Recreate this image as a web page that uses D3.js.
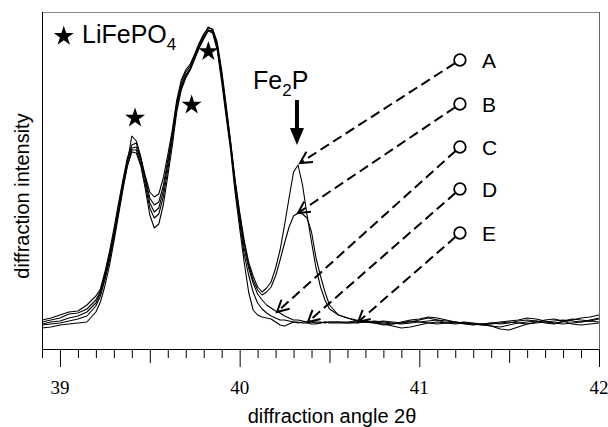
<!DOCTYPE html>
<html><head><meta charset="utf-8">
<script src="https://cdn.jsdelivr.net/npm/d3@7"></script>
<style>body{margin:0;background:#fff}svg{display:block}
.serif{font-family:"Liberation Serif","Times New Roman",serif;}
</style>
</head><body>
<svg id="c" width="608" height="427"></svg>
<script>
// 2-theta sampling positions (degrees)
const angle = [38.90,38.95,39.00,39.05,39.10,39.15,39.20,
39.225,39.25,39.275,39.30,39.325,39.35,39.375,39.40,39.425,39.45,39.475,39.50,39.525,39.55,39.575,39.60,
39.625,39.65,39.675,39.70,39.725,39.75,39.775,39.80,39.825,39.85,39.875,39.90,39.925,39.95,39.975,40.00,
40.025,40.05,40.075,40.10,40.125,40.15,40.175,40.20,40.225,40.25,40.275,40.30,40.325,40.35,40.375,40.40,
40.425,40.45,40.475,40.50,
40.55,40.60,40.65,40.70,40.75,40.80,40.85,40.90,40.95,41.00,41.05,41.10,41.15,41.20,41.25,41.30,41.35,
41.40,41.45,41.50,41.55,41.60,41.65,41.70,41.75,41.80,41.85,41.90,41.95,42.00];

// diffraction intensities (arbitrary units) for samples A-E
const seriesA = [29,31,34,37,38,44,53, 60,77,97,120,145,169,191, 204,206, 191,173,157,152,155,171,194,
219,249,269,279,285,295,306,315,321,320, 307,279,244,207,169, 137,109,87,73,62,57,
61,67,81,99,124,151,177,184,164,134,107,81,62,49,40,
34,31,29,28,27,28,27,26,27,29,31,29,26,25,26,25,24,23,22,24,26,27,28,27,26,27,29,31,32,34];
const seriesB = [27,29,31,35,36,40,49, 58,74,93,116,141,166,188, 201,202, 189,170,151,144,147,163,189,
215,246,266,277,283,294,305,314,322,319, 305,276,241,206,167, 135,106,84,69,59,54,
57,62,73,89,106,122,133,136,135,131,117,91,73,57,44,
34,31,28,27,27,26,25,26,28,27,26,25,26,27,25,24,25,26,25,26,28,29,28,26,25,28,30,29,28,30];
const seriesC = [25,27,28,31,33,37,46, 56,72,91,114,139,164,187, 213,208, 192,169,146,137,141,158,185,
212,244,263,274,281,292,303,312,319,318, 304,274,239,204,164, 131,101,81,66,55,49,
44,41,38,36,33,31,29,29,28,27,27,27,27,26,27,
27,27,28,27,26,25,23,21,22,24,26,27,26,26,27,26,25,23,20,19,22,25,26,27,28,29,28,27,29,31];
const seriesD = [24,25,26,28,30,33,43, 53,69,88,111,136,161,183, 199,199, 185,164,141,131,135,152,179,
209,241,261,273,280,291,302,311,319,317, 302,271,236,202,161, 127,95,74,57,46,40,
36,33,31,29,29,28,27,26,27,27,27,26,26,27,27,
27,26,26,27,28,27,26,25,26,27,28,29,28,27,26,25,25,26,27,28,29,31,30,28,26,25,26,27,28,27];
const seriesE = [21,22,24,25,26,27,37, 47,63,83,107,133,159,183, 197,196, 183,160,134,121,125,144,173,
203,237,259,271,279,290,301,310,318,316, 299,267,232,198,156, 121,87,57,39,34,32,
31,30,27,24,23,25,27,27,26,26,25,25,26,27,26,
26,26,27,27,26,24,25,27,29,30,32,31,29,27,26,25,24,25,26,27,26,25,27,29,30,28,25,24,25,26];

const sampleNames = ["A","B","C","D","E"];
const allSeries = [seriesA, seriesB, seriesC, seriesD, seriesE];
// label circle positions and arrow targets (2theta, intensity)
const labelPos = [[41.226,289],[41.226,245],[41.226,202],[41.226,160],[41.226,116]];
const arrowTarget = [[40.336,186],[40.325,136],[40.208,37],[40.380,27],[40.659,27]];
// LiFePO4 reflection markers
const starPos = [[39.418,231],[39.733,244],[39.826,297.5]];
// Fe2P reflection arrow
const fe2pArrow = {angle:40.319, from:249, to:204};
const xTicks = d3.range(389, 421).map(d => d / 10);
const xTickLabels = ["39","40","41","42"];

const svg = d3.select("#c");
const x = d3.scaleLinear().domain([38.9, 42]).range([42, 599]);
const y = d3.scaleLinear().domain([0, 337]).range([349, 12]);

// frame
svg.append("line").attr("x1",42).attr("x2",599.5).attr("y1",12.5).attr("y2",12.5).attr("stroke","#888").attr("stroke-width",1);
svg.append("line").attr("x1",599.5).attr("x2",599.5).attr("y1",12).attr("y2",349).attr("stroke","#666").attr("stroke-width",1);
svg.append("line").attr("x1",42.5).attr("x2",42.5).attr("y1",12).attr("y2",349).attr("stroke","#000").attr("stroke-width",1);

// x axis (ticks; labels drawn as serif text)
const ax = svg.append("g").attr("transform","translate(0,349)")
  .call(d3.axisBottom(x).tickValues(xTicks).tickSize(9).tickSizeOuter(0).tickFormat(""));
ax.select(".domain").attr("stroke","#000");
ax.selectAll(".tick line").attr("stroke","#000").attr("y2", d => {
  const k = Math.round(d * 10);
  return k % 10 === 0 ? 18 : (k % 5 === 0 ? 14 : 9);
});
svg.append("g").selectAll("text").data(xTickLabels).join("text")
  .attr("class","serif").attr("x", d => x(+d)).attr("y", 394).attr("text-anchor","middle")
  .attr("font-size",19).attr("fill","#000").text(d => d);

// curves
const line = d3.line().x((d,i) => x(angle[i])).y(d => y(d)).curve(d3.curveLinear);
svg.append("g").selectAll("path").data(allSeries).join("path")
  .attr("d", line).attr("fill","none").attr("stroke","#000").attr("stroke-width",1.1).attr("stroke-linejoin","round");

// axis titles
svg.append("text").attr("x",332).attr("y",423).attr("text-anchor","middle")
  .attr("font-family","Liberation Sans").attr("font-size",20).text("diffraction angle 2\u03B8");
svg.append("text").attr("transform","translate(29,196) rotate(-90)").attr("text-anchor","middle")
  .attr("font-family","Liberation Sans").attr("font-size",20).text("diffraction intensity");

// stars
const star = d3.symbol().type(d3.symbolStar).size(125);
svg.append("g").selectAll("path").data(starPos).join("path")
  .attr("transform", d => `translate(${x(d[0])},${y(d[1])})`).attr("d", star).attr("fill","#000");

// legend
svg.append("path").attr("transform","translate(63.8,36.3)").attr("d", star).attr("fill","#000");
const lt = svg.append("text").attr("x",82).attr("y",42.7)
  .attr("font-family","Liberation Sans").attr("font-size",25);
lt.append("tspan").text("LiFePO");
lt.append("tspan").attr("dy",7).attr("font-size",17).text("4");

// Fe2P label + arrow
const ft = svg.append("text").attr("x",253).attr("y",89)
  .attr("font-family","Liberation Sans").attr("font-size",25);
ft.append("tspan").text("Fe");
ft.append("tspan").attr("dy",7).attr("font-size",17).text("2");
ft.append("tspan").attr("dy",-7).text("P");
const fx = x(fe2pArrow.angle), fy0 = y(fe2pArrow.from), fy1 = y(fe2pArrow.to);
svg.append("line").attr("x1",fx).attr("x2",fx).attr("y1",fy0).attr("y2",fy1-14).attr("stroke","#000").attr("stroke-width",4);
svg.append("path").attr("d",`M${fx-7},${fy1-17}L${fx+7},${fy1-17}L${fx},${fy1}Z`).attr("fill","#000");

// sample labels with dashed arrows
const r = 5.8;
const ann = svg.append("g");
sampleNames.forEach((name, i) => {
  const cx = x(labelPos[i][0]), cy = y(labelPos[i][1]);
  const tx = x(arrowTarget[i][0]), ty = y(arrowTarget[i][1]);
  const dx = tx - cx, dy = ty - cy, L = Math.hypot(dx, dy);
  const ux = dx / L, uy = dy / L;
  ann.append("line").attr("x1", cx + ux * r).attr("y1", cy + uy * r).attr("x2", tx - ux*2).attr("y2", ty - uy*2)
    .attr("stroke","#000").attr("stroke-width",2).attr("stroke-dasharray","10,5");
  const hl = 13, a = 28 * Math.PI / 180;
  const bx = -ux, by = -uy;
  const p1 = [tx + hl * (bx*Math.cos(a) - by*Math.sin(a)), ty + hl * (bx*Math.sin(a) + by*Math.cos(a))];
  const p2 = [tx + hl * (bx*Math.cos(-a) - by*Math.sin(-a)), ty + hl * (bx*Math.sin(-a) + by*Math.cos(-a))];
  ann.append("path").attr("d", `M${p1[0]},${p1[1]}L${tx},${ty}L${p2[0]},${p2[1]}`)
    .attr("fill","none").attr("stroke","#000").attr("stroke-width",2);
  ann.append("circle").attr("cx",cx).attr("cy",cy).attr("r",r).attr("fill","none").attr("stroke","#000").attr("stroke-width",1.8);
  ann.append("text").attr("x", cx + 22).attr("y", cy).attr("dy","0.36em")
    .attr("font-family","Liberation Sans").attr("font-size",21).text(name);
});
</script>
</body></html>
